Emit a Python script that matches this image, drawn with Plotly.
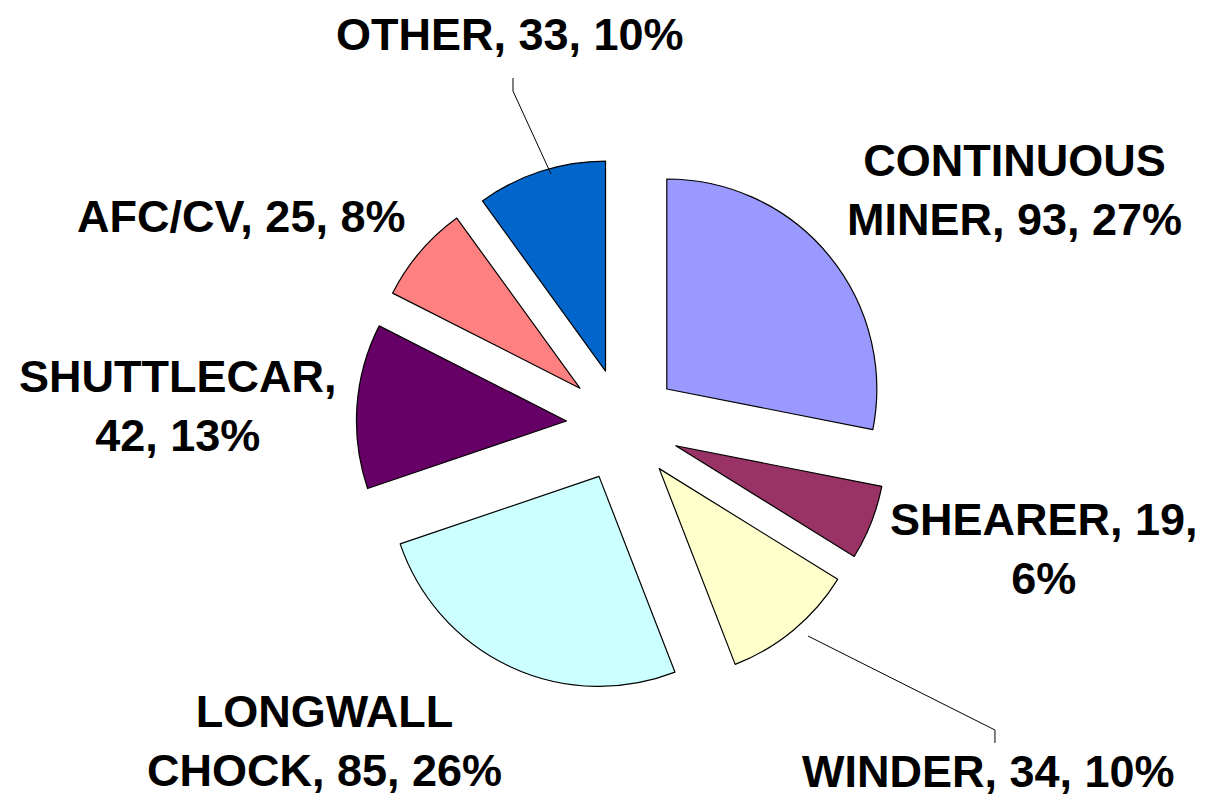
import plotly.graph_objects as go

categories = ["CONTINUOUS MINER", "SHEARER", "WINDER", "LONGWALL CHOCK", "SHUTTLECAR", "AFC/CV", "OTHER"]
values = [93, 19, 34, 85, 42, 25, 33]
percent_labels = ["27%", "6%", "10%", "26%", "13%", "8%", "10%"]
colors = ["#9999FF", "#993366", "#FFFFCC", "#CCFFFF", "#660066", "#FF8080", "#0066CC"]
label_texts = [
    "CONTINUOUS<br>MINER, 93, 27%",
    "SHEARER, 19,<br>6%",
    "WINDER, 34, 10%",
    "LONGWALL<br>CHOCK, 85, 26%",
    "SHUTTLECAR,<br>42, 13%",
    "AFC/CV, 25, 8%",
    "OTHER, 33, 10%",
]
# label centres in pixels (x, y from top)
label_pos = [(1006, 182), (1036, 541), (981, 763), (316, 733), (169, 398), (233, 208), (502, 27)]

W, H = 1211, 800
cx, cy, r, pull = 615, 417, 210, 0.27
half = r * (1 + pull)

fig = go.Figure(go.Pie(
    labels=categories,
    values=values,
    sort=False,
    direction="clockwise",
    rotation=0,
    pull=[pull] * len(values),
    marker=dict(colors=colors, line=dict(color="black", width=1.2)),
    textinfo="none",
    hoverinfo="label+value+percent",
    showlegend=False,
    domain=dict(x=[(cx - half) / W, (cx + half) / W], y=[(H - cy - half) / H, (H - cy + half) / H]),
))

for txt, (px, py) in zip(label_texts, label_pos):
    fig.add_annotation(
        x=px / W, y=1 - py / H, xref="paper", yref="paper",
        text="<b>" + txt + "</b>", showarrow=False,
        font=dict(family="Liberation Sans, Arial, sans-serif", size=45, color="black"),
        xanchor="center", yanchor="middle", align="center", borderpad=0,
    )

def pth(points):
    s = "M " + " L ".join(f"{x / W:.4f},{1 - y / H:.4f}" for x, y in points)
    return s

# leader lines
fig.add_shape(type="path", xref="paper", yref="paper", path=pth([(505, 70), (505, 83), (543, 166)]),
              line=dict(color="black", width=1))
fig.add_shape(type="path", xref="paper", yref="paper", path=pth([(800, 628), (987, 722), (987, 735)]),
              line=dict(color="black", width=1))

fig.update_layout(
    width=W, height=H,
    margin=dict(l=0, r=0, t=0, b=0),
    paper_bgcolor="white", plot_bgcolor="white",
)

fig.write_html("out.html")
